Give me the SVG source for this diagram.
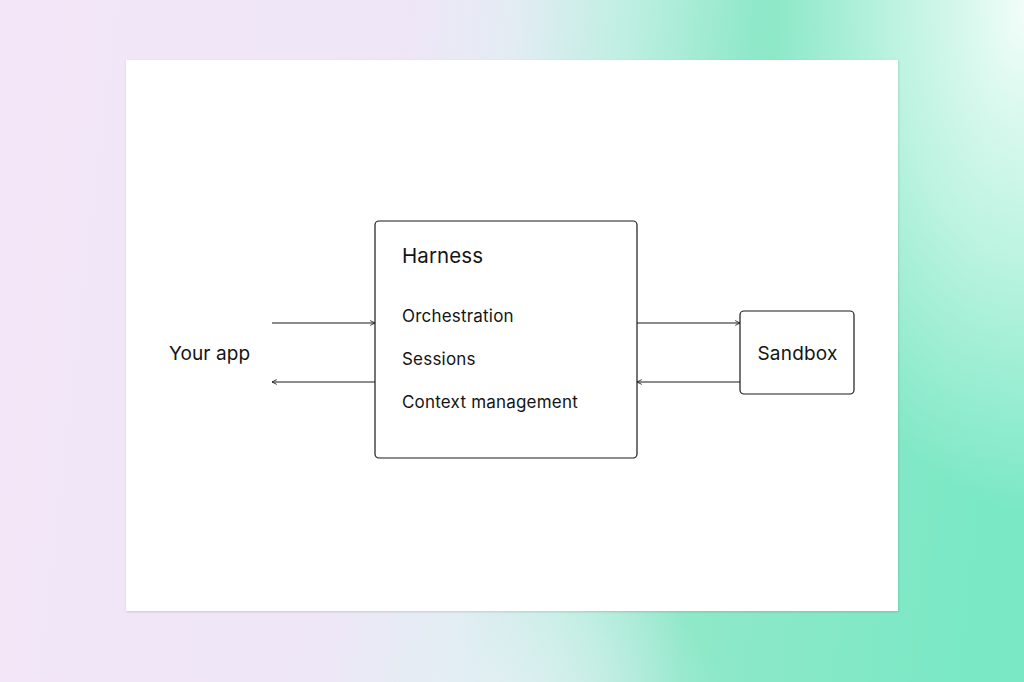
<svg xmlns="http://www.w3.org/2000/svg" width="1024" height="682" viewBox="0 0 1024 682">
<defs>
<linearGradient id="bg" x1="0" y1="0" x2="1024" y2="120" gradientUnits="userSpaceOnUse">
<stop offset="0" stop-color="#f3e6f8"/>
<stop offset="0.4" stop-color="#eee6f7"/>
<stop offset="0.5" stop-color="#e2ecf3"/>
<stop offset="0.61" stop-color="#bdefe1"/>
<stop offset="0.73" stop-color="#8fe8c9"/>
<stop offset="1" stop-color="#7be8c5"/>
</linearGradient>
<radialGradient id="tr" cx="0" cy="0" r="1" gradientUnits="userSpaceOnUse" gradientTransform="translate(1024 10) scale(250 500)">
<stop offset="0" stop-color="#f2fdf9" stop-opacity="1"/>
<stop offset="0.5" stop-color="#e6fbf3" stop-opacity="0.6"/>
<stop offset="1" stop-color="#e6fbf3" stop-opacity="0"/>
</radialGradient>
<radialGradient id="bm" cx="0" cy="0" r="1" gradientUnits="userSpaceOnUse" gradientTransform="translate(500 700) scale(220 150)">
<stop offset="0" stop-color="#e6eff5" stop-opacity="0.8"/>
<stop offset="1" stop-color="#e6eff5" stop-opacity="0"/>
</radialGradient>
<filter id="sh" x="-5%" y="-5%" width="110%" height="110%">
<feDropShadow dx="0.5" dy="1" stdDeviation="1.2" flood-color="#000" flood-opacity="0.15"/>
</filter>
<marker id="ah" viewBox="0 0 10 10" refX="9" refY="5" markerWidth="6" markerHeight="6" orient="auto-start-reverse" markerUnits="userSpaceOnUse">
<path d="M1,1 L9,5 L1,9" fill="none" stroke="#1a1a1a" stroke-width="1.4"/>
</marker>
<style>
.box{fill:#fff;stroke:#1a1a1a;stroke-width:1.2}
.ln{stroke:#1a1a1a;stroke-width:1.2;fill:none}
.t{font-family:Inter,"Noto Sans",sans-serif;fill:#141414}
</style>
</defs>
<rect width="1024" height="682" fill="url(#bg)"/>
<rect width="1024" height="682" fill="url(#bm)"/>
<rect width="1024" height="682" fill="url(#tr)"/>
<rect x="126" y="60" width="772" height="551" fill="#fff" filter="url(#sh)"/>
<g id="connectors">
<line class="ln" x1="272" y1="323" x2="375" y2="323" marker-end="url(#ah)"/>
<line class="ln" x1="375" y1="382" x2="272" y2="382" marker-end="url(#ah)"/>
<line class="ln" x1="637" y1="323" x2="740" y2="323" marker-end="url(#ah)"/>
<line class="ln" x1="740" y1="382" x2="637" y2="382" marker-end="url(#ah)"/>
</g>
<g id="your-app">
<text class="t" x="169" y="360" font-size="19" letter-spacing="0.1">Your app</text>
</g>
<g id="harness">
<rect class="box" x="375" y="221" width="262" height="237" rx="4"/>
<text class="t" x="402" y="263" font-size="20.5" letter-spacing="0.1">Harness</text>
<text class="t" x="402" y="322" font-size="17" letter-spacing="0.2">Orchestration</text>
<text class="t" x="402" y="365" font-size="17" letter-spacing="0.2">Sessions</text>
<text class="t" x="402" y="408" font-size="17" letter-spacing="0.2">Context management</text>
</g>
<g id="sandbox">
<rect class="box" x="740" y="311" width="114" height="83" rx="4"/>
<text class="t" x="797.5" y="360" font-size="19" letter-spacing="0.2" text-anchor="middle">Sandbox</text>
</g>
</svg>
